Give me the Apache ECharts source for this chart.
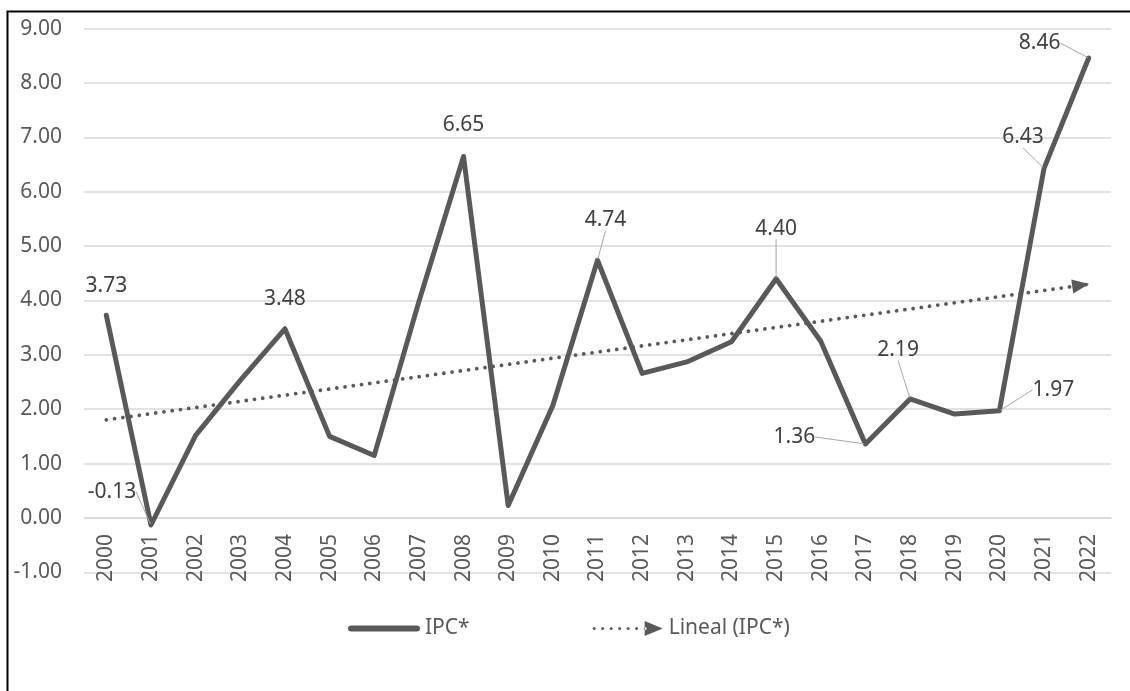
<!DOCTYPE html>
<html><head><meta charset="utf-8">
<script src="https://cdn.jsdelivr.net/npm/echarts@6/dist/echarts.min.js"></script>
<style>html,body{margin:0;padding:0;background:#fff}#c{width:1130px;height:691px}</style>
</head><body><div id="c"></div>
<script>
// ---- data ----
const years = ['2000','2001','2002','2003','2004','2005','2006','2007','2008','2009','2010','2011','2012','2013','2014','2015','2016','2017','2018','2019','2020','2021','2022'];
const ipc = [3.73,-0.13,1.52,2.53,3.48,1.50,1.15,3.98,6.65,0.23,2.07,4.74,2.66,2.87,3.24,4.40,3.25,1.36,2.19,1.91,1.97,6.43,8.46];
const labeledYears = ['2000','2001','2004','2008','2011','2015','2017','2018','2020','2021','2022'];
const seriesNames = ['IPC*','Lineal (IPC*)'];
const yMin = -1, yMax = 9, yStep = 1;

// linear trend (least squares over the series, as the spreadsheet does)
const n = ipc.length;
const mx = (n - 1) / 2;
const my = ipc.reduce((a, b) => a + b, 0) / n;
let sxy = 0, sxx = 0;
ipc.forEach((v, i) => { sxy += (i - mx) * (v - my); sxx += (i - mx) * (i - mx); });
const slope = sxy / sxx, intercept = my - slope * mx;
const trend = ipc.map((_, i) => intercept + slope * i);

// ---- label placement (styling only: offsets from the point, px) ----
const labelPlace = {
  '2000': {dx: 0, dy: -29},
  '2001': {dx: -39, dy: -33, line: [[-37,-17],[-18,-8],[0,0]]},
  '2004': {dx: 0, dy: -30},
  '2008': {dx: 0, dy: -31},
  '2011': {dx: 8, dy: -40, line: [[10,-23],[5,-12],[0,-2]]},
  '2015': {dx: 0, dy: -50, line: [[0,-33],[0,-16],[0,0]]},
  '2017': {dx: -71, dy: -7, line: [[-40,-9.5],[-28.5,-9.5],[0,0]]},
  '2018': {dx: -12, dy: -49, line: [[-11,-32],[-5,-16],[0,0]]},
  '2020': {dx: 54, dy: -21, line: [[24,-22],[13,-22],[0,0]]},
  '2021': {dx: -21, dy: -31, line: [[-21,-14],[-10,-7],[0,0]]},
  '2022': {dx: -49, dy: -15, line: [[-20,-18],[-6,-18],[0,0]]}
};

const FONT = 'Noto Sans';
const FS = 21;
const LINE_COLOR = '#595959';

function dotsArrowPath() {
  let p = 'path://';
  for (let k = 0; k < 7; k++) {
    const cx = 1.5 + 8.5 * k, r = 1.5;
    p += 'M' + (cx - r) + ',7.5A' + r + ',' + r + ',0,1,0,' + (cx + r) + ',7.5A' + r + ',' + r + ',0,1,0,' + (cx - r) + ',7.5Z';
  }
  p += 'M52,0L70,7.5L52,15Z';
  return p;
}

const chart = echarts.init(document.getElementById('c'), null, {renderer: 'canvas'});
const ipcData = ipc.map((v, i) => {
  const y = years[i];
  const pl = labelPlace[y];
  return {
    value: v,
    label: {show: labeledYears.indexOf(y) >= 0},
    labelLine: {show: !!(pl && pl.line)}
  };
});
const trendData = trend.map((v, i) => i === n - 1
  ? {value: v, symbol: 'triangle', symbolSize: [14, 17], symbolRotate: -82, symbolOffset: [-8, 1], itemStyle: {color: LINE_COLOR}}
  : {value: v, symbol: 'none'});

chart.setOption({
  animation: false,
  backgroundColor: '#fff',
  textStyle: {fontFamily: FONT},
  graphic: [{
    type: 'rect', z: 100, silent: true,
    shape: {x: 7.5, y: 11.5, width: 1200, height: 1000},
    style: {fill: 'none', stroke: '#000', lineWidth: 2}
  }],
  grid: {left: 84, right: 19, top: 28.7, bottom: 118.7, containLabel: false},
  legend: {
    left: 343, top: 613,
    itemWidth: 72, itemHeight: 15, itemGap: 123,
    textStyle: {fontSize: FS, color: '#595959', fontFamily: FONT},
    data: [
      {name: seriesNames[0], icon: 'path://M3,0L69,0A3,3,0,0,1,69,6L3,6A3,3,0,0,1,3,0Z', itemStyle: {color: LINE_COLOR}},
      {name: seriesNames[1], icon: dotsArrowPath(), itemStyle: {color: LINE_COLOR}}
    ]
  },
  xAxis: {
    type: 'category', data: years, boundaryGap: true,
    axisLine: {show: true, onZero: false, lineStyle: {color: '#d9d9d9', width: 1.5}},
    axisTick: {show: false},
    axisLabel: {rotate: 90, margin: 16, fontSize: FS, color: '#595959', fontFamily: FONT, interval: 0}
  },
  yAxis: {
    type: 'value', min: yMin, max: yMax, interval: yStep,
    axisLine: {show: false}, axisTick: {show: false},
    splitLine: {lineStyle: {color: '#d9d9d9', width: 1.5}},
    axisLabel: {margin: 22, fontSize: FS, color: '#595959', fontFamily: FONT, formatter: v => v.toFixed(2)}
  },
  series: [
    {
      name: seriesNames[0], type: 'line', data: ipcData,
      symbol: 'circle', symbolSize: 2, showSymbol: true,
      itemStyle: {color: LINE_COLOR},
      lineStyle: {color: LINE_COLOR, width: 5, cap: 'round', join: 'round'},
      z: 3,
      label: {show: true, position: 'top', fontSize: FS, color: '#404040', fontFamily: FONT, formatter: p => p.value.toFixed(2)},
      labelLine: {show: true, lineStyle: {color: '#a6a6a6', width: 1}},
      labelLayout: function (p) {
        const y = years[p.dataIndex];
        const s = labelPlace[y];
        if (!s) return {};
        const cx = p.rect.x + p.rect.width / 2, cy = p.rect.y + p.rect.height / 2;
        const o = {x: cx + s.dx, y: cy + s.dy, align: 'center', verticalAlign: 'middle'};
        if (s.line) o.labelLinePoints = s.line.map(q => [cx + q[0], cy + q[1]]);
        return o;
      }
    },
    {
      name: seriesNames[1], type: 'line', data: trendData,
      symbol: 'none', showSymbol: true,
      itemStyle: {color: LINE_COLOR},
      lineStyle: {color: LINE_COLOR, width: 3.8, type: [0.01, 8.3], cap: 'round'},
      z: 2
    }
  ]
});
// place the category axis where the value axis crosses zero
const pZero = chart.convertToPixel({yAxisIndex: 0}, 0);
const pMin = chart.convertToPixel({yAxisIndex: 0}, yMin);
chart.setOption({xAxis: {offset: -(pMin - pZero)}});
</script>
</body></html>
